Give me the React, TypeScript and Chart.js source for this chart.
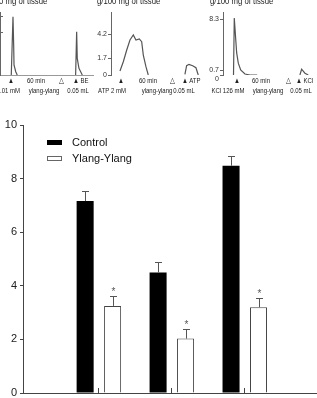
import React, { useEffect, useRef } from 'react';
import { Chart, registerables } from 'chart.js';

Chart.register(...registerables);

const FONT = "'Liberation Sans', Arial, sans-serif";

// ---------- bar chart data ----------
const agonists = ['BE', 'ATP', 'KCl'];
const agonistPos = [1, 2, 3];
const controlMeans = [7.16, 4.5, 8.48];
const controlSem = [0.38, 0.38, 0.38];
const ylangMeans = [3.25, 2.03, 3.2];
const ylangSem = [0.37, 0.36, 0.36];
const ylangStar = [true, true, true];
const barYMax = 10;
const barYStep = 2;

// ---------- trace data (time in min, tension in g/100 mg of tissue) ----------
const beTime = [13.2, 15.2, 16.0, 16.4, 18.4, 20.2, 50, 88.5, 89.7, 90.4, 92.4, 94.4, 96.3];
const beTension = [0, 6.02, 3.1, 1.03, 0.34, 0, null, 0, 4.47, 1.72, 0.69, 0.34, 0];
const beTicks = [4.4, 6.0];

const atpTime = [10.5, 14.4, 18.4, 22.2, 26.1, 29.2, 33.1, 35.9, 37.8, 40.9, 43.6, 60, 86.5, 88.5, 91.2, 95.6, 99.4, 102.1];
const atpTension = [0.41, 1.37, 2.58, 3.61, 4.13, 3.61, 3.72, 3.44, 2.06, 0.86, 0, null, 0.07, 0.96, 1.1, 0.96, 0.75, 0];
const atpTicks = [0, 1.7, 4.2];

const kclTime = [12.3, 13.2, 14.9, 16.0, 17.9, 20.7, 25.7, 31.6, 40, 60, 90, 92, 95.9, 99.8];
const kclTension = [0, 8.45, 5.28, 3.27, 1.76, 0.75, 0.15, 0, 0, null, 0, 0.86, 0.26, 0];
const kclTicks = [0, 0.7, 8.3];

type PanelProps = {
  time: number[];
  tension: (number | null)[];
  ticks: number[];
  yMax: number;
  showTickLabels: boolean;
  showBase: boolean;
  inwardTicks: boolean;
  nudgeZero: boolean;
  left: number;
};

function TracePanel(p: PanelProps) {
  const ref = useRef<HTMLCanvasElement>(null);
  useEffect(() => {
    const chart = new Chart(ref.current!, {
      type: 'line',
      data: {
        datasets: [
          {
            data: p.time.map((t, i) => ({ x: t, y: p.tension[i] })) as any,
            borderColor: '#555',
            borderWidth: 1.2,
            pointRadius: 0,
            spanGaps: false,
            tension: 0,
          },
        ],
      },
      options: {
        animation: false,
        responsive: false,
        maintainAspectRatio: false,
        layout: { padding: { top: 12, bottom: 9, left: 0, right: 0 } },
        plugins: { legend: { display: false }, tooltip: { enabled: false } },
        scales: {
          x: {
            type: 'linear',
            min: 0,
            max: 110,
            grid: { display: false, drawTicks: false },
            ticks: { display: false },
            border: { display: p.showBase, color: '#999', width: 1 },
            afterFit: (s: any) => {
              s.height = 0;
            },
          },
          y: {
            min: 0,
            max: p.yMax,
            afterFit: (s: any) => {
              s.width = 16;
              s.paddingTop = 4;
              s.paddingBottom = 4;
            },
            afterBuildTicks: (s: any) => {
              s.ticks = p.ticks.map((v) => ({ value: v }));
            },
            grid: { drawOnChartArea: false, tickLength: p.inwardTicks ? -3 : 3, color: '#666' },
            border: { color: '#666', width: 1 },
            ticks: {
              display: p.showTickLabels,
              padding: 1,
              color: '#333',
              font: { family: FONT, size: 7, lineHeight: 1.1 },
              callback: (v: any) =>
                Number(v) === 0 ? (p.nudgeZero ? ['', '0'] : '0') : Number(v).toFixed(1),
            },
          },
        },
      },
    });
    return () => chart.destroy();
  }, []);
  return (
    <canvas
      ref={ref}
      width={110}
      height={84}
      style={{ position: 'absolute', left: p.left, top: 0, width: 110, height: 84 }}
    />
  );
}

function Lbl({ x, y, text, align = 'center' }: { x: number; y: number; text: string; align?: string }) {
  const tx = align === 'center' ? '-50%' : align === 'right' ? '-100%' : '0';
  const origin = align === 'center' ? 'center' : align === 'right' ? 'right' : 'left';
  return (
    <div
      style={{
        position: 'absolute',
        left: x,
        top: y,
        transform: `translate(${tx}, -50%) scaleX(0.8)`,
        transformOrigin: `${origin} center`,
        fontFamily: FONT,
        fontSize: 7.5,
        lineHeight: 1,
        whiteSpace: 'nowrap',
        color: '#222',
      }}
    >
      {text}
    </div>
  );
}

function Title({ x, text }: { x: number; text: string }) {
  return (
    <div
      style={{
        position: 'absolute',
        left: x,
        top: -3,
        fontFamily: FONT,
        fontSize: 9,
        lineHeight: '9px',
        whiteSpace: 'nowrap',
        color: '#222',
        transform: 'scaleX(0.86)',
        transformOrigin: 'left center',
      }}
    >
      {text}
    </div>
  );
}

function BarChart() {
  const ref = useRef<HTMLCanvasElement>(null);
  useEffect(() => {
    const errorBars = {
      id: 'errorBars',
      afterDatasetsDraw(chart: any) {
        const ctx = chart.ctx;
        const y = chart.scales.y;
        const means = [controlMeans, ylangMeans];
        const sems = [controlSem, ylangSem];
        chart.data.datasets.forEach((_: any, di: number) => {
          const meta = chart.getDatasetMeta(di);
          meta.data.forEach((bar: any, j: number) => {
            const top = Math.round(y.getPixelForValue(means[di][j] + sems[di][j])) + 0.5;
            const x = Math.round(bar.x) + 0.5;
            ctx.save();
            ctx.strokeStyle = '#555';
            ctx.lineWidth = 1;
            ctx.beginPath();
            ctx.moveTo(x, bar.y);
            ctx.lineTo(x, top);
            ctx.moveTo(x - 3.5, top);
            ctx.lineTo(x + 3.5, top);
            ctx.stroke();
            if (di === 1 && ylangStar[j]) {
              ctx.fillStyle = '#555';
              ctx.font = `10px ${FONT}`;
              ctx.textAlign = 'center';
              ctx.textBaseline = 'alphabetic';
              ctx.fillText('*', x, top - 2);
            }
            ctx.restore();
          });
        });
      },
    };
    const chart = new Chart(ref.current!, {
      type: 'bar',
      data: {
        labels: agonists,
        datasets: [
          {
            label: 'Control',
            data: agonistPos.map((x, i) => ({ x, y: controlMeans[i] })) as any,
            backgroundColor: '#000',
            borderColor: '#000',
            borderWidth: 0,
            categoryPercentage: 0.753,
            barPercentage: 0.62,
          },
          {
            label: 'Ylang-Ylang',
            data: agonistPos.map((x, i) => ({ x, y: ylangMeans[i] })) as any,
            backgroundColor: '#fff',
            borderColor: '#444',
            borderWidth: 1,
            categoryPercentage: 0.753,
            barPercentage: 0.62,
          },
        ],
      },
      options: {
        animation: false,
        responsive: false,
        maintainAspectRatio: false,
        layout: { padding: { top: 15, left: 0, right: 0, bottom: 0 } },
        plugins: { legend: { display: false }, tooltip: { enabled: false } },
        scales: {
          x: {
            type: 'linear',
            min: -0.04,
            max: 3.99,
            offset: false,
            grid: { offset: false, drawOnChartArea: false, drawTicks: true, tickLength: -5, color: '#444' },
            border: { display: true, color: '#444', width: 1 },
            ticks: { display: false },
            afterBuildTicks: (s: any) => {
              s.ticks = agonistPos.map((v) => ({ value: v }));
            },
            afterFit: (s: any) => {
              s.height = 5;
            },
          },
          y: {
            min: 0,
            max: barYMax,
            ticks: { stepSize: barYStep, padding: 3, color: '#222', font: { family: FONT, size: 11 } },
            grid: { drawOnChartArea: false, tickLength: 3, color: '#444' },
            border: { color: '#444', width: 1 },
            afterFit: (s: any) => {
              s.width = 23;
              s.paddingTop = 6;
              s.paddingBottom = 0;
            },
          },
        },
      },
      plugins: [errorBars],
    });
    return () => chart.destroy();
  }, []);
  return (
    <canvas
      ref={ref}
      width={317}
      height={288}
      style={{ position: 'absolute', left: 0, top: 110, width: 317, height: 288 }}
    />
  );
}

function Legend() {
  const row = (top: number, fill: string, border: string, text: string, h: number) => (
    <div style={{ position: 'absolute', left: 47, top, height: 10 }}>
      <div
        style={{
          position: 'absolute',
          left: 0,
          top: 5 - h / 2,
          width: 15,
          height: h,
          boxSizing: 'border-box',
          background: fill,
          border: `1px solid ${border}`,
        }}
      />
      <div
        style={{
          position: 'absolute',
          left: 25,
          top: 5,
          transform: 'translateY(-50%)',
          fontFamily: FONT,
          fontSize: 11,
          lineHeight: 1,
          whiteSpace: 'nowrap',
          color: '#111',
        }}
      >
        {text}
      </div>
    </div>
  );
  return (
    <>
      {row(137, '#000', '#000', 'Control', 5)}
      {row(153, '#fff', '#666', 'Ylang-Ylang', 5)}
    </>
  );
}

export default function App() {
  useEffect(() => {
    document.body.style.margin = '0';
  }, []);
  return (
    <div style={{ position: 'relative', width: 317, height: 398, overflow: 'hidden', background: '#fff' }}>
      <style>{`body{margin:0}`}</style>
      <TracePanel time={beTime} tension={beTension} ticks={beTicks} yMax={6.5} showTickLabels={false} showBase={true} inwardTicks={true} nudgeZero={false} left={-16} />
      <TracePanel time={atpTime} tension={atpTension} ticks={atpTicks} yMax={6.5} showTickLabels={true} showBase={false} inwardTicks={false} nudgeZero={false} left={95} />
      <TracePanel time={kclTime} tension={kclTension} ticks={kclTicks} yMax={9.35} showTickLabels={true} showBase={false} inwardTicks={false} nudgeZero={true} left={207} />

      <Title x={-16} text="g/100 mg of tissue" />
      <Title x={97} text="g/100 mg of tissue" />
      <Title x={210} text="g/100 mg of tissue" />

      <Lbl x={11} y={81} text="▲" />
      <Lbl x={36} y={81} text="60 min" />
      <Lbl x={61} y={81} text="△" />
      <Lbl x={72.5} y={81} text="▲ BE" align="left" />
      <Lbl x={20} y={91} text="BE 0.01 mM" align="right" />
      <Lbl x={43.5} y={91} text="ylang-ylang" />
      <Lbl x={78} y={91} text="0.05 mL" />

      <Lbl x={121} y={81} text="▲" />
      <Lbl x={147.5} y={81} text="60 min" />
      <Lbl x={172} y={81} text="△" />
      <Lbl x={181.5} y={81} text="▲ ATP" align="left" />
      <Lbl x={112} y={91} text="ATP 2 mM" />
      <Lbl x={157} y={91} text="ylang-ylang" />
      <Lbl x={183.5} y={91} text="0.05 mL" />

      <Lbl x={237} y={81} text="▲" />
      <Lbl x={261} y={81} text="60 min" />
      <Lbl x={288} y={81} text="△" />
      <Lbl x={295.5} y={81} text="▲ KCl" align="left" />
      <Lbl x={227.5} y={91} text="KCl 126 mM" />
      <Lbl x={267.5} y={91} text="ylang-ylang" />
      <Lbl x={301} y={91} text="0.05 mL" />

      <BarChart />
      <Legend />
    </div>
  );
}
